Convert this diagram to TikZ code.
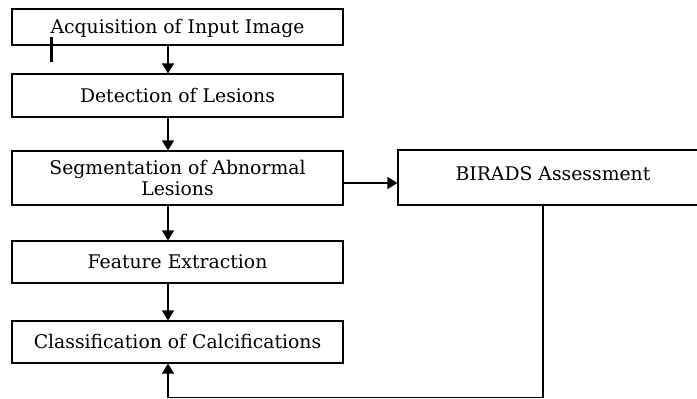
\documentclass[tikz,border=0pt]{standalone}
\usepackage{fontspec}
\setmainfont{DejaVu Serif}
\usetikzlibrary{arrows.meta,calc}
\begin{document}
\begin{tikzpicture}[x=1pt,y=-1pt,
  stepbox/.style={draw,line width=1.1pt,rectangle,minimum width=331pt,inner sep=0pt,
    align=center,text height=13.5pt,text depth=0pt,
    font=\fontsize{18.8}{21}\selectfont},
  arr/.style={line width=1.1pt,-{Triangle[length=10pt,width=12pt]}},
  plain/.style={line width=1.1pt}]
\useasboundingbox (0,0) rectangle (697,399);
\coordinate (ax) at (168,0);
\coordinate (hy) at (0,183);
\coordinate (fb) at (543,397.5);
\node[stepbox,minimum height=36pt] (a) at (177.5,27) {Acquisition of Input Image};
\node[stepbox,minimum height=43pt] (b) at (177.5,95.5) {Detection of Lesions};
\node[stepbox,minimum height=54pt,text height=35pt,text depth=0pt] (c) at (177.5,178) {Segmentation of Abnormal\\Lesions};
\node[stepbox,minimum height=42pt] (d) at (177.5,262) {Feature Extraction};
\node[stepbox,minimum height=42pt] (e) at (177.5,342) {Classification of Calcifications};
\node[stepbox,minimum width=304pt,minimum height=55pt,text height=5pt] (f) at (550,177.5) {\hspace*{6pt}BIRADS Assessment};
\draw[arr] (a.south -| ax) -- (b.north -| ax);
\draw[arr] (b.south -| ax) -- (c.north -| ax);
\draw[arr] (c.south -| ax) -- (d.north -| ax);
\draw[arr] (d.south -| ax) -- (e.north -| ax);
\draw[arr] (c.east |- hy) -- (f.west |- hy);
\draw[arr] (f.south -| fb) -- (fb) -- (fb -| ax) -- (e.south -| ax);
\draw[line width=3pt] (51,37) -- (51,62);
\end{tikzpicture}
\end{document}
